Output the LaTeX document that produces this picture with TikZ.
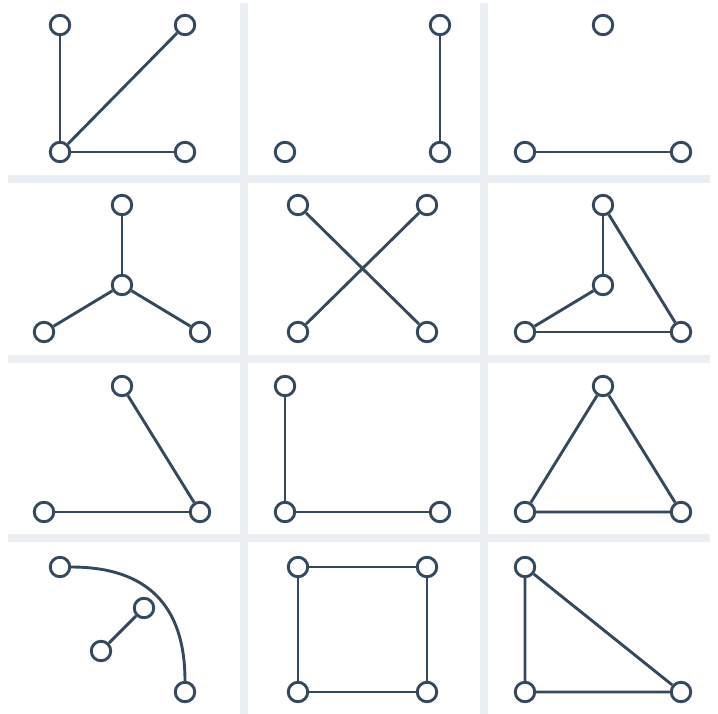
\documentclass[tikz,border=0pt]{standalone}
\usepackage{tikz}
\usetikzlibrary{positioning}
\definecolor{slate}{HTML}{34495E}
\definecolor{gridgray}{HTML}{ECEFF1}
\tikzset{
  vertex/.style={circle, draw=slate, fill=white, line width=1.65pt, minimum size=3.9mm, inner sep=0pt},
  link/.style={draw=slate, line width=1.65pt},
  gap/.style={fill=gridgray, draw=none}
}

\begin{document}
\begin{tikzpicture}[x=0.02cm, y=-0.02cm]
\useasboundingbox (0,0) rectangle (718,714);
% gaps between the cells
\fill[gap] (8,175) rectangle (710,183);
\fill[gap] (8,355) rectangle (710,363);
\fill[gap] (8,534) rectangle (710,542);
\fill[gap] (240,3) rectangle (248,714);
\fill[gap] (480,3) rectangle (488,714);

% row 1
\node[vertex] (a1) at (60,25) {};
\node[vertex] (a2) at (185,25) {};
\node[vertex] (a3) at (60,152) {};
\node[vertex] (a4) at (185,152) {};
\draw[link] (a1) -- (a3);
\draw[link] (a2) -- (a3);
\draw[link] (a3) -- (a4);

\node[vertex] (b1) at (440,25) {};
\node[vertex] (b2) at (285,152) {};
\node[vertex] (b3) at (440,152) {};
\draw[link] (b1) -- (b3);

\node[vertex] (c1) at (603,25) {};
\node[vertex] (c2) at (525,152) {};
\node[vertex] (c3) at (681,152) {};
\draw[link] (c2) -- (c3);

% row 2
\node[vertex] (d1) at (122,205) {};
\node[vertex] (d2) at (122,285) {};
\node[vertex] (d3) at (44,332) {};
\node[vertex] (d4) at (200,332) {};
\draw[link] (d2) -- (d1);
\draw[link] (d2) -- (d3);
\draw[link] (d2) -- (d4);

\node[vertex] (e1) at (298,205) {};
\node[vertex] (e2) at (427,205) {};
\node[vertex] (e3) at (298,332) {};
\node[vertex] (e4) at (427,332) {};
\draw[link] (e1) -- (e4);
\draw[link] (e2) -- (e3);

\node[vertex] (f1) at (603,205) {};
\node[vertex] (f2) at (603,285) {};
\node[vertex] (f3) at (525,332) {};
\node[vertex] (f4) at (681,332) {};
\draw[link] (f1) -- (f2);
\draw[link] (f2) -- (f3);
\draw[link] (f3) -- (f4);
\draw[link] (f1) -- (f4);

% row 3
\node[vertex] (g1) at (122,386) {};
\node[vertex] (g2) at (44,512) {};
\node[vertex] (g3) at (200,512) {};
\draw[link] (g1) -- (g3);
\draw[link] (g2) -- (g3);

\node[vertex] (h1) at (285,386) {};
\node[vertex] (h2) at (285,512) {};
\node[vertex] (h3) at (440,512) {};
\draw[link] (h1) -- (h2);
\draw[link] (h2) -- (h3);

\node[vertex] (i1) at (603,386) {};
\node[vertex] (i2) at (525,512) {};
\node[vertex] (i3) at (681,512) {};
\draw[link] (i1) -- (i2) -- (i3) -- (i1);

% row 4
\node[vertex] (j1) at (60,567) {};
\node[vertex] (j2) at (185,692) {};
\node[vertex] (j3) at (144,608) {};
\node[vertex] (j4) at (101,651) {};
\draw[link] (j1) to[out=0, in=90, looseness=1.2] (j2);
\draw[link] (j3) -- (j4);

\node[vertex] (k1) at (298,567) {};
\node[vertex] (k2) at (427,567) {};
\node[vertex] (k3) at (298,692) {};
\node[vertex] (k4) at (427,692) {};
\draw[link] (k1) -- (k2) -- (k4) -- (k3) -- (k1);

\node[vertex] (l1) at (525,567) {};
\node[vertex] (l2) at (525,692) {};
\node[vertex] (l3) at (681,692) {};
\draw[link] (l1) -- (l2) -- (l3) -- (l1);
\end{tikzpicture}
\end{document}
